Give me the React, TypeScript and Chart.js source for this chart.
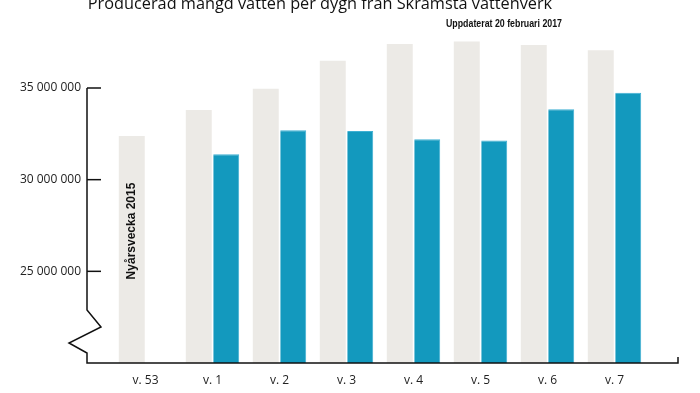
import React, { useEffect, useRef } from "react";
import { Chart, registerables } from "chart.js";

Chart.register(...registerables);

const categories = ["v. 53", "v. 1", "v. 2", "v. 3", "v. 4", "v. 5", "v. 6", "v. 7"];
const previousYear = [32380000, 33800000, 34960000, 36480000, 37400000, 37530000, 37350000, 37060000];
const currentYear = [null, 31380000, 32690000, 32650000, 32210000, 32140000, 33840000, 34740000];
const yTickValues = [25000000, 30000000, 35000000];
const titleText = "Producerad mängd vatten per dygn från Skramsta vattenverk";
const subtitleText = "Uppdaterat 20 februari 2017";
const noteText = "Nyårsvecka 2015";

const fmt = (v: number) => String(v).replace(/\B(?=(\d{3})+(?!\d))/g, " ");

const decorPlugin = {
  id: "decor",
  afterDraw(chart: any) {
    const ctx = chart.ctx as CanvasRenderingContext2D;
    const ys = chart.scales.y;
    const area = chart.chartArea;
    const axisX = area.left - 25;
    const bottom = area.bottom;
    const topY = ys.getPixelForValue(35000000);
    ctx.save();
    // title
    ctx.fillStyle = "#111";
    ctx.font = "16.3px 'Open Sans'";
    ctx.textAlign = "center";
    ctx.textBaseline = "alphabetic";
    ctx.fillText(titleText, 320, 9);
    // subtitle (condensed)
    ctx.save();
    ctx.font = "bold 11px 'Liberation Sans'";
    ctx.textAlign = "left";
    const w = ctx.measureText(subtitleText).width;
    ctx.translate(446, 27);
    ctx.scale(116 / w, 1);
    ctx.fillText(subtitleText, 0, 0);
    ctx.restore();
    // y axis line with break, and x baseline
    ctx.strokeStyle = "#111";
    ctx.lineWidth = 1.5;
    ctx.beginPath();
    ctx.moveTo(axisX, topY);
    ctx.lineTo(axisX, bottom - 53);
    ctx.lineTo(axisX + 14, bottom - 36);
    ctx.lineTo(axisX - 18, bottom - 20);
    ctx.lineTo(axisX, bottom - 10);
    ctx.lineTo(axisX, bottom);
    ctx.lineTo(area.right + 30, bottom);
    ctx.lineTo(area.right + 30, bottom - 6);
    ctx.stroke();
    // ticks
    ctx.font = "12px 'Open Sans'";
    ctx.textAlign = "right";
    ctx.textBaseline = "middle";
    ctx.fillStyle = "#222";
    for (const v of yTickValues) {
      const py = ys.getPixelForValue(v);
      ctx.beginPath();
      ctx.moveTo(axisX, py);
      ctx.lineTo(axisX + 14, py);
      ctx.stroke();
      ctx.fillText(fmt(v), axisX - 6, py);
    }
    // vertical note inside first bar
    const meta = chart.getDatasetMeta(0);
    const bar = meta.data[0];
    if (bar) {
      ctx.save();
      ctx.translate(bar.x, 231);
      ctx.rotate(-Math.PI / 2);
      ctx.font = "bold 12px 'Liberation Sans'";
      ctx.textAlign = "center";
      ctx.textBaseline = "middle";
      ctx.fillStyle = "#111";
      ctx.fillText(noteText, 0, 0);
      ctx.restore();
    }
    ctx.restore();
  },
};

export default function App() {
  const ref = useRef<HTMLCanvasElement | null>(null);
  useEffect(() => {
    if (!ref.current) return;
    const chart = new Chart(ref.current, {
      type: "bar",
      data: {
        labels: categories,
        datasets: [
          {
            label: "2015/2016",
            data: previousYear,
            backgroundColor: "#ECEAE6",
            borderWidth: 0,
            categoryPercentage: 0.82,
            barPercentage: 0.945,
          },
          {
            label: "2016/2017",
            data: currentYear,
            backgroundColor: "#1399BE",
            borderColor: "#3FB0D3",
            borderWidth: { top: 1, right: 1, left: 0, bottom: 0 },
            categoryPercentage: 0.82,
            barPercentage: 0.945,
          },
        ],
      },
      options: {
        responsive: false,
        animation: false,
        layout: { padding: { left: 112, right: 52, top: 33, bottom: 0 } },
        plugins: { legend: { display: false }, tooltip: { enabled: false }, title: { display: false } },
        scales: {
          x: {
            grid: { display: false, drawTicks: false },
            border: { display: false },
            ticks: { color: "#222", font: { family: "'Open Sans'", size: 12 }, padding: 10 },
            afterFit: (scale: any) => {
              scale.height = 30;
            },
          },
          y: {
            display: false,
            min: 20000000,
            max: 38000000,
          },
        },
      },
      plugins: [decorPlugin],
    });
    return () => chart.destroy();
  }, []);
  return (
    <div style={{ position: "fixed", left: 0, top: 0, width: 700, height: 393, background: "#fff" }}>
      <canvas ref={ref} width={700} height={393} />
    </div>
  );
}
